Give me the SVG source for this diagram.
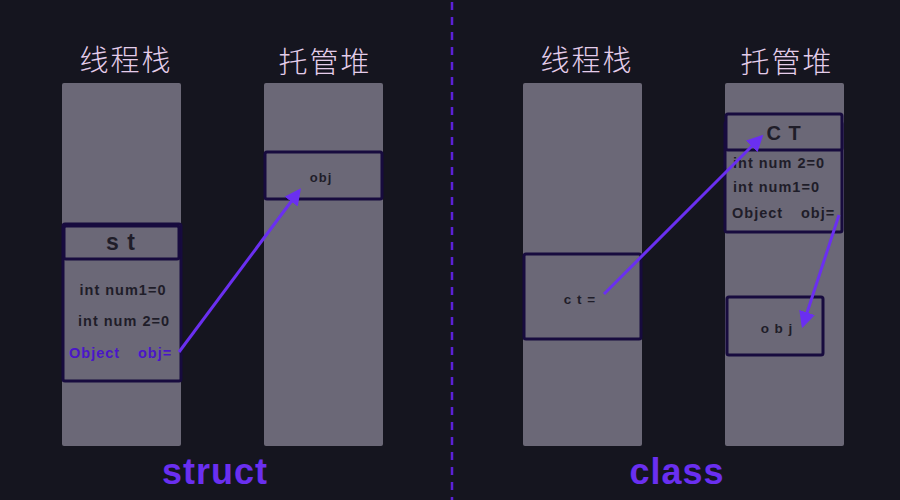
<svg xmlns="http://www.w3.org/2000/svg" width="900" height="500" viewBox="0 0 900 500">
<defs>
<marker id="ah" viewBox="0 0 10 10" refX="8" refY="5" markerWidth="5.5" markerHeight="5.5" orient="auto" markerUnits="strokeWidth">
<path d="M0,0 L10,5 L0,10 z" fill="#6a2ff0"/>
</marker>
<style>
.col{fill:#6b6877;}
.box{fill:#6b6877;stroke:#170b3e;stroke-width:3;}
.title{font-family:"Noto Sans CJK SC","Noto Sans",sans-serif;font-weight:300;font-size:29px;fill:#e4cdea;text-anchor:middle;letter-spacing:2px;}
.t{font-family:"Liberation Sans",Arial,sans-serif;font-weight:bold;fill:#1f1d29;letter-spacing:1px;}
.p{fill:#4a16c8;}
.big{font-family:"Liberation Sans",Arial,sans-serif;font-weight:bold;font-size:36px;fill:#6a2ff0;text-anchor:middle;letter-spacing:1px;}
.ln{stroke:#6a2ff0;stroke-width:3;fill:none;marker-end:url(#ah);}
</style>
</defs>
<rect width="900" height="500" fill="#15151f"/>
<line x1="452" y1="2" x2="452" y2="500" stroke="#5b21d6" stroke-width="2.5" stroke-dasharray="8,7"/>
<g id="struct-side">
<text class="title" x="126" y="71">线程栈</text>
<text class="title" x="325" y="73">托管堆</text>
<rect class="col" x="62" y="83" width="119" height="363" rx="2"/>
<rect class="col" x="264" y="83" width="119" height="363" rx="2"/>
</g>
<g id="struct-st">
<rect class="box" x="63" y="224" width="118" height="157" rx="2"/>
<rect class="box" x="64" y="226" width="115" height="33" rx="2"/>
<text class="t" x="121" y="250" font-size="23" text-anchor="middle" letter-spacing="7">s t</text>
<text class="t" x="123" y="295" font-size="14.5" text-anchor="middle">int num1=0</text>
<text class="t" x="124" y="326" font-size="14.5" text-anchor="middle">int num 2=0</text>
<text class="t p" x="69" y="358" font-size="14.5">Object</text>
<text class="t p" x="138" y="358" font-size="14.5">obj=</text>
</g>
<g id="struct-obj">
<rect class="box" x="265" y="152" width="117" height="47" rx="2"/>
<text class="t" x="321" y="182" font-size="13" text-anchor="middle">obj</text>
</g>
<g id="class-side">
<text class="title" x="587" y="71">线程栈</text>
<text class="title" x="787" y="73">托管堆</text>
<rect class="col" x="523" y="83" width="119" height="363" rx="2"/>
<rect class="col" x="725" y="83" width="119" height="363" rx="2"/>
</g>
<g id="class-ct-ref">
<rect class="box" x="524" y="254" width="117" height="85" rx="2"/>
<text class="t" x="580" y="304" font-size="13.5" text-anchor="middle" letter-spacing="4">c t =</text>
</g>
<g id="class-CT">
<rect class="box" x="725" y="122" width="117" height="110" rx="2"/>
<rect class="box" x="726" y="114" width="116" height="36" rx="2"/>
<text class="t" x="784" y="140" font-size="20" text-anchor="middle" letter-spacing="3">C T</text>
<text class="t" x="733" y="168" font-size="14.5">int num 2=0</text>
<text class="t" x="733" y="192" font-size="14.5">int num1=0</text>
<text class="t" x="732" y="218" font-size="14.5">Object</text>
<text class="t" x="801" y="218" font-size="14.5">obj=</text>
</g>
<g id="class-obj">
<rect class="box" x="727" y="297" width="96" height="58" rx="2"/>
<text class="t" x="777" y="333" font-size="13.5" text-anchor="middle" letter-spacing="3">o b j</text>
</g>
<g id="connectors">
<line class="ln" x1="179" y1="352" x2="299" y2="191"/>
<line class="ln" x1="604" y1="294" x2="761" y2="137"/>
<line class="ln" x1="839" y1="215" x2="803" y2="325"/>
</g>
<text class="big" x="215" y="484">struct</text>
<text class="big" x="677" y="484">class</text>
</svg>
